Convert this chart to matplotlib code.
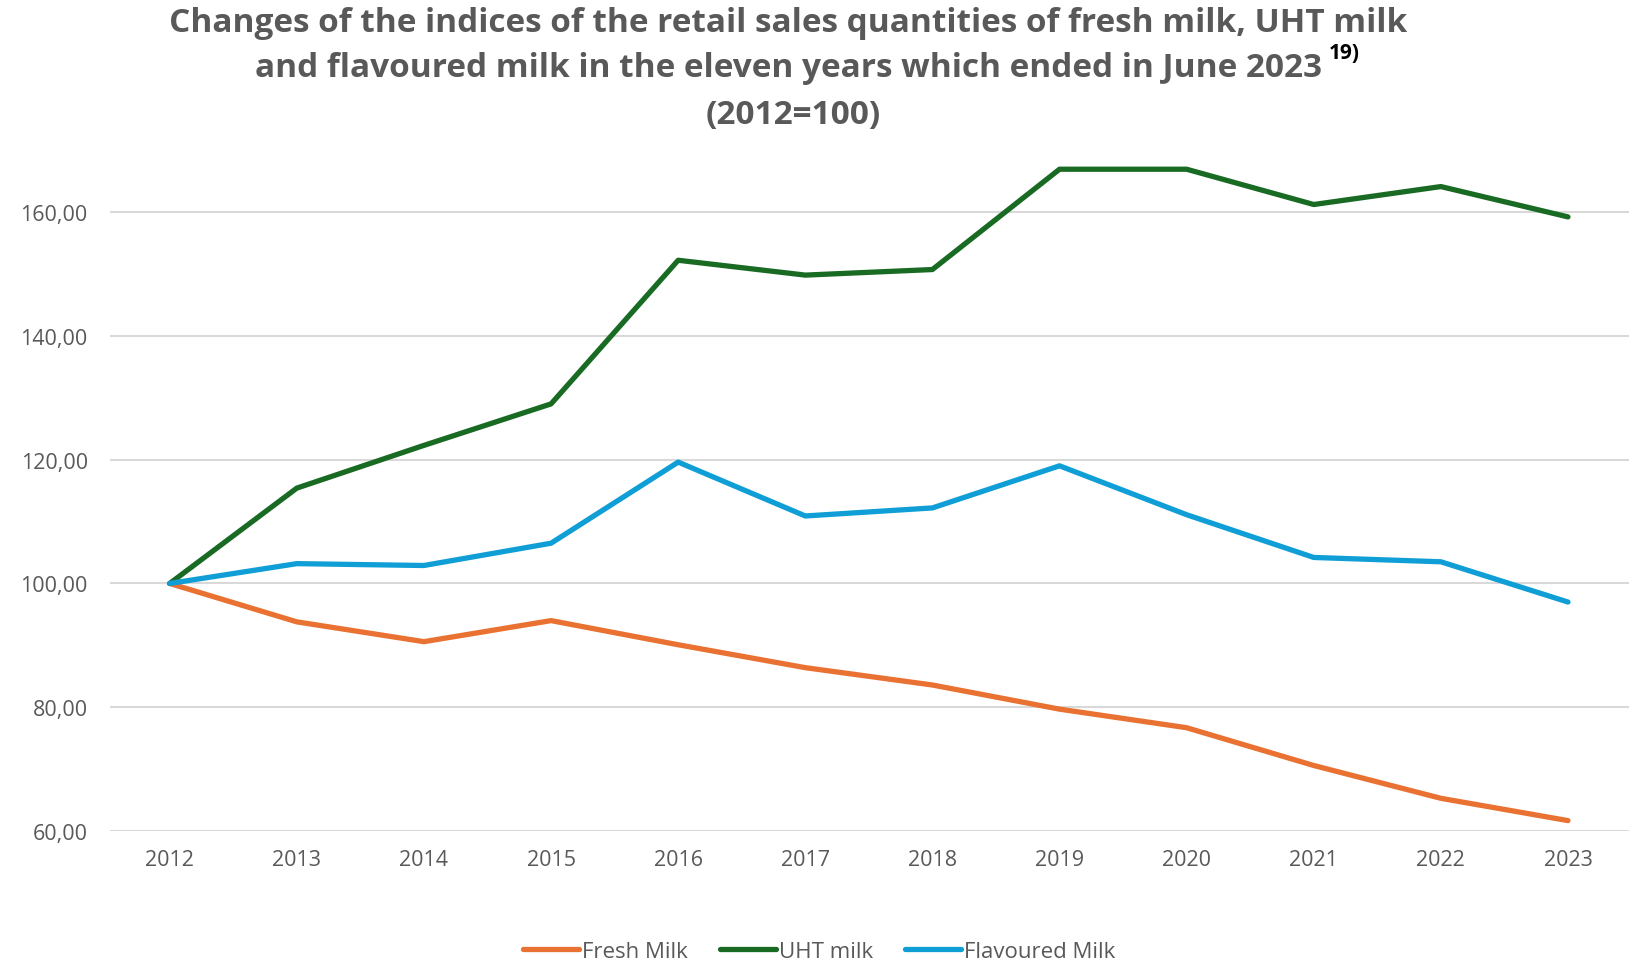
import matplotlib
matplotlib.use("Agg")
import matplotlib.pyplot as plt

years = ["2012", "2013", "2014", "2015", "2016", "2017", "2018", "2019", "2020", "2021", "2022", "2023"]
fresh_milk = [100.0, 93.8, 90.6, 94.0, 90.1, 86.4, 83.6, 79.7, 76.7, 70.6, 65.3, 61.7]
uht_milk = [100.0, 115.4, 122.3, 129.0, 152.2, 149.8, 150.7, 166.9, 166.9, 161.2, 164.1, 159.2]
flavoured_milk = [100.0, 103.2, 102.9, 106.5, 119.6, 110.9, 112.2, 119.0, 111.1, 104.2, 103.5, 97.0]
series_names = ["Fresh Milk", "UHT milk", "Flavoured Milk"]
colors = ["#E97132", "#196B24", "#0F9ED5"]
yticks = [60, 80, 100, 120, 140, 160]

plt.rcParams['font.family'] = ['Open Sans', 'DejaVu Sans']
text_color = "#595959"

fig = plt.figure(figsize=(16.29, 9.62), dpi=100)
ax = fig.add_axes([0.0675, 0.135, 0.9325, 0.708])

x = list(range(len(years)))
for vals, name, c in zip([fresh_milk, uht_milk, flavoured_milk], series_names, colors):
    ax.plot(x, vals, color=c, lw=3.8, label=name, solid_capstyle='round', solid_joinstyle='round', zorder=3)

ax.set_xlim(-0.47, 11.48)
ax.set_ylim(60, 170)
ax.set_yticks(yticks)
ax.set_yticklabels([f"{v:.2f}".replace(".", ",") for v in yticks])
ax.set_xticks(x)
ax.set_xticklabels(years)
ax.tick_params(axis='both', length=0, labelsize=15.5, colors=text_color)
ax.tick_params(axis='y', pad=16)
ax.tick_params(axis='x', pad=13)
ax.grid(axis='y', color="#D9D9D9", lw=1.5, zorder=0)
for s in ax.spines.values():
    s.set_visible(False)

tkw = dict(ha='center', va='center', fontsize=24, fontweight='bold', color=text_color)
fig.text(0.484, 0.976, "Changes of the indices of the retail sales quantities of fresh milk, UHT milk", **tkw)
t2 = fig.text(0.484, 0.929, "and flavoured milk in the eleven years which ended in June 2023", **tkw)
fig.text(0.487, 0.880, "(2012=100)", **tkw)

fig.canvas.draw()
bb = t2.get_window_extent().transformed(fig.transFigure.inverted())
fig.text(bb.x1 + 0.004, 0.944, "19)", ha='left', va='center', fontsize=15, fontweight='bold', color='black')

leg = fig.legend(loc='center', bbox_to_anchor=(0.503, 0.010), ncol=3, frameon=False,
                 fontsize=16, handlelength=2.5, handletextpad=0.15, columnspacing=1.45)
for t in leg.get_texts():
    t.set_color(text_color)

fig.savefig("out.png", dpi=100)
